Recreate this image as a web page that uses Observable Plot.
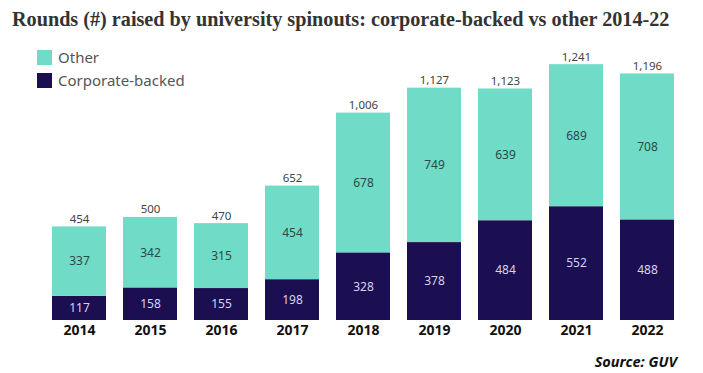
<!DOCTYPE html>
<html>
<head>
<meta charset="utf-8">
<script src="https://cdn.jsdelivr.net/npm/d3@7"></script>
<script src="https://cdn.jsdelivr.net/npm/@observablehq/plot@0.6"></script>
<style>
  body { margin: 0; background: #fff; width: 703px; height: 373px; overflow: hidden; position: relative; }
  #title { height: 40px; box-sizing: border-box; padding: 8px 0 0 12px; font-family: "Liberation Serif", "DejaVu Serif", serif; font-weight: bold; font-size: 20.2px; color: #333; white-space: nowrap; }
  #legend { position: absolute; left: 37px; top: 46px; font-family: "Noto Sans", sans-serif; font-size: 15px; color: #555; }
  #legend .row { display: flex; align-items: center; height: 22px; margin-bottom: 1px; }
  #legend .sw { width: 15px; height: 15px; margin-right: 6px; }
  #source { position: absolute; right: 26px; top: 351px; font-family: "Noto Sans", sans-serif; font-weight: bold; font-style: italic; font-size: 14.5px; color: #111; }
</style>
</head>
<body>
<div id="title">Rounds (#) raised by university spinouts: corporate-backed vs other 2014-22</div>
<div id="chart"></div>
<div id="legend"></div>
<div id="source">Source: GUV</div>
<script>
const years = ["2014","2015","2016","2017","2018","2019","2020","2021","2022"];
const corporate = [117,158,155,198,328,378,484,552,488];
const other = [337,342,315,454,678,749,639,689,708];
const totals = [454,500,470,652,1006,1127,1123,1241,1196];
const colors = {"Corporate-backed": "#1b0f52", "Other": "#70dbc6"};
const labelColors = {"Corporate-backed": "#d6d2ec", "Other": "#2b4a47"};

const rows = [];
years.forEach((y, i) => {
  rows.push({year: y, series: "Corporate-backed", value: corporate[i], y1: 0, y2: corporate[i]});
  rows.push({year: y, series: "Other", value: other[i], y1: corporate[i], y2: corporate[i] + other[i]});
});
const totalRows = years.map((y, i) => ({year: y, total: totals[i]}));

const plot = Plot.plot({
  width: 703,
  height: 310,
  marginLeft: 34,
  marginRight: 12,
  marginTop: 12,
  marginBottom: 30,
  style: {fontFamily: "Noto Sans, sans-serif", background: "#fff"},
  x: {domain: years, padding: 0.24, label: null},
  y: {domain: [0, 1300], axis: null},
  marks: [
    Plot.rectY(rows, {x: "year", y1: "y1", y2: "y2", fill: d => colors[d.series]}),
    Plot.text(rows, {x: "year", y: d => (d.y1 + d.y2) / 2, text: d => String(d.value), fill: d => labelColors[d.series], fontSize: 12}),
    Plot.text(totalRows, {x: "year", y: "total", text: d => d3.format(",")(d.total), lineAnchor: "bottom", dy: -4, fill: "#444", fontSize: 11.5}),
    Plot.axisX({tickSize: 0, tickPadding: 5, fontSize: 14, fontWeight: "bold", color: "#111", label: null})
  ]
});
document.getElementById("chart").appendChild(plot);

const legend = document.getElementById("legend");
["Other", "Corporate-backed"].forEach(name => {
  const row = document.createElement("div");
  row.className = "row";
  const sw = document.createElement("div");
  sw.className = "sw";
  sw.style.background = colors[name];
  const t = document.createElement("span");
  t.textContent = name;
  row.appendChild(sw);
  row.appendChild(t);
  legend.appendChild(row);
});
</script>
</body>
</html>
